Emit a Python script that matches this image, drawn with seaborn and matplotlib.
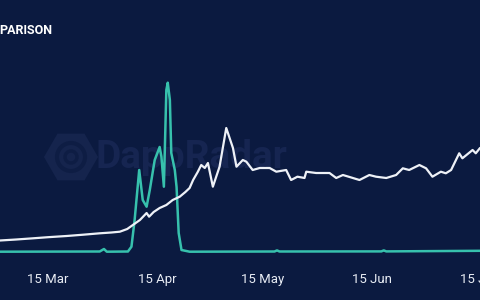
import numpy as np
import pandas as pd
import matplotlib
matplotlib.use("Agg")
import matplotlib.pyplot as plt
import matplotlib.dates as mdates
from matplotlib.patches import RegularPolygon, Circle
import seaborn as sns

# ---- data (day offsets from 1 Mar) ----
start = pd.Timestamp("2021-03-01")
white_days = [0.4, 5, 9.8, 14, 19.3, 24, 28.7, 32, 34.4, 36.5, 38.1, 40.1, 42.0, 42.7,
              44, 45.7, 47.6, 49.4, 51.4, 53, 54.2, 55.2, 56.5, 57.5, 58.5, 59.4, 60.8,
              62.7, 64.6, 66.5, 67.5, 69.3, 70.3, 72.1, 74.1, 76.9, 78.8, 81.6, 83.0,
              84.8, 86.8, 87.3, 90.1, 93.9, 95.8, 97.7, 99.6, 102.4, 105.2, 107.1, 110,
              112.8, 114.7, 116.5, 119.4, 121.3, 123.1, 125.5, 126.9, 128.4, 130.7,
              131.6, 134.5, 135.4, 136.6]
white_vals = [11.5, 12.5, 13.7, 14.8, 16, 17.3, 18.7, 19.5, 20.3, 23, 27, 32, 39, 35.3,
              40, 44, 47, 52, 55.3, 60, 64, 72, 80, 87, 84, 89, 65.3,
              85.3, 124, 104, 85.3, 92, 90.3, 82, 84, 84, 80.3, 82, 72,
              75.3, 74, 80.3, 79, 79, 74, 77, 75, 72, 77, 75.3, 74,
              77, 83.7, 82, 87, 83.7, 75.3, 80.3, 78.7, 82, 98.7,
              93.7, 102, 98.7, 104]

teal_days = [0.4, 28.7, 29.9, 30.7, 36.7, 37.7, 38.6, 39.9, 40.9, 42.0, 42.9, 44.3,
             45.7, 46.2, 46.9, 47.6, 48.0, 48.6, 49.0, 50.0, 50.5, 51.1, 51.9, 54.2,
             78.3, 79, 79.7, 108.6, 109.3, 110, 136.6]
teal_vals = [0.3, 0.5, 3, 0.3, 0.5, 5.3, 32, 82, 52, 45.3, 62, 92,
             105, 95.3, 65.3, 162, 169.3, 152, 99, 82, 65, 19, 2, 0.3,
             0.5, 1.6, 0.5, 0.6, 1.6, 0.6, 1.2]

x_start, x_end = 0.4, 136.6  # day offsets of plot edges

white = pd.DataFrame({"date": start + pd.to_timedelta(white_days, unit="D"), "value": white_vals})
teal = pd.DataFrame({"date": start + pd.to_timedelta(teal_days, unit="D"), "value": teal_vals})

bg = "#0b1a40"
sns.set_theme(style="dark")
plt.rcParams["font.family"] = ["Roboto", "DejaVu Sans"]

fig = plt.figure(figsize=(4.8, 3.0), dpi=100, facecolor=bg)
ax = fig.add_axes([0, (300 - 262) / 300, 1, (262 - 40) / 300])
ax.set_facecolor(bg)

# watermark (behind the lines)
ax.text(95 / 480, 1 - 158 / 300, "DappRadar", color="#162551", fontsize=28,
        fontweight="bold", va="center", ha="left", zorder=1, transform=fig.transFigure)
ax.add_patch(RegularPolygon((0.71, 1.43), numVertices=6, radius=0.27,
                            orientation=np.pi / 6, transform=fig.dpi_scale_trans,
                            facecolor="#15244d", edgecolor="none", zorder=1))
ax.add_patch(Circle((0.71, 1.43), radius=0.14, transform=fig.dpi_scale_trans,
                    facecolor="none", edgecolor="#0e1d44", lw=3, zorder=1.5))
ax.add_patch(Circle((0.71, 1.43), radius=0.06, transform=fig.dpi_scale_trans,
                    facecolor="none", edgecolor="#0e1d44", lw=2.5, zorder=1.5))

sns.lineplot(data=teal, x="date", y="value", ax=ax, color="#37c1ad", lw=1.8, zorder=3)
sns.lineplot(data=white, x="date", y="value", ax=ax, color="#eef1f7", lw=1.6, zorder=4)

ax.set_xlim(start + pd.Timedelta(days=x_start), start + pd.Timedelta(days=x_end))
ax.set_ylim(-10, 212)
ax.xaxis.set_major_locator(mdates.DayLocator(bymonthday=15))
ax.xaxis.set_major_formatter(mdates.DateFormatter("%-d %b"))
ax.set_yticks([])
ax.set_xlabel("")
ax.set_ylabel("")
ax.grid(False)
for s in ax.spines.values():
    s.set_visible(False)
ax.tick_params(axis="x", colors="#e8ecf4", labelsize=9.5, length=0, pad=8)

fig.text(-0.002, 1 - 31 / 300, "PARISON", color="white", fontsize=9, fontweight="bold",
         va="center", ha="left")

fig.savefig("out.png", dpi=100, facecolor=bg)
